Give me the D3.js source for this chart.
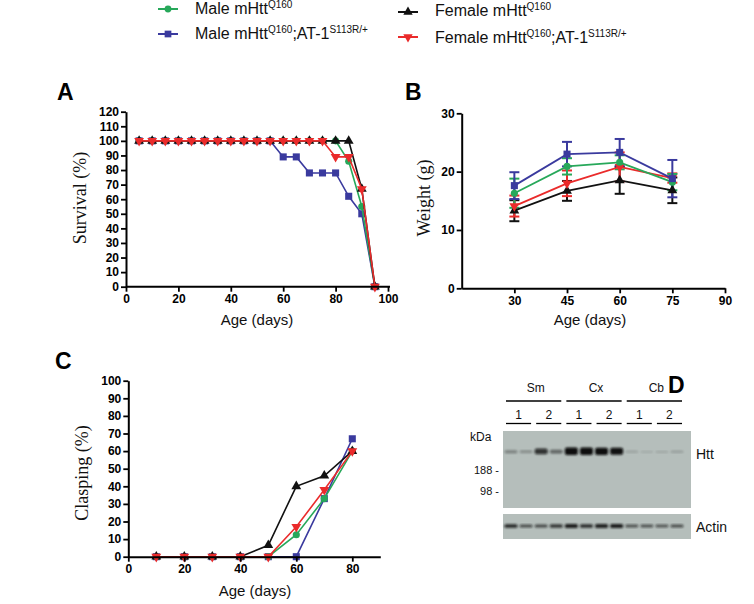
<!DOCTYPE html>
<html><head><meta charset="utf-8">
<script src="https://cdn.jsdelivr.net/npm/d3@7"></script>
<style>
body{margin:0;background:#fff;}
svg{display:block;}
text{font-family:"Liberation Sans",Arial,sans-serif;}
</style></head>
<body>
<svg id="chart" width="754" height="604"></svg>
<script>
// ---------- DATA ----------
const seriesNames = ["Male mHtt", "Male mHtt", "Female mHtt", "Female mHtt"];
const seriesKeys = ["maleWT", "maleAT1", "femaleWT", "femaleAT1"];
// Panel A: survival (%)
const survivalAge = [5,10,15,20,25,30,35,40,45,50,55,60,65,70,75,80,85,90,95];
const survMaleWT   = [100,100,100,100,100,100,100,100,100,100,100,100,100,100,100,100,86,55,0];
const survMaleAT1  = [100,100,100,100,100,100,100,100,100,100,100,89,89,78,78,78,62,50,0];
const survFemWT    = [100,100,100,100,100,100,100,100,100,100,100,100,100,100,100,100,100,67,0];
const survFemAT1   = [100,100,100,100,100,100,100,100,100,100,100,100,100,100,100,89,89,67,0];
const survXTicks = [0,20,40,60,80,100];
const survYTicks = [0,10,20,30,40,50,60,70,80,90,100,110,120];
// Panel B: weight (g), mean and error
const weightAge = [30,45,60,75];
const wMaleWT   = [16.3,20.9,21.6,18.2];
const wMaleWTe  = [2.5,1.4,1.2,1.4];
const wMaleAT1  = [17.6,23.0,23.3,18.8];
const wMaleAT1e = [2.3,2.1,2.3,3.2];
const wFemWT    = [13.3,16.7,18.5,16.8];
const wFemWTe   = [1.8,1.7,2.3,2.2];
const wFemAT1   = [14.1,18.0,20.8,18.9];
const wFemAT1e  = [1.8,2.2,2.5,0.8];
const weightXTicks = [30,45,60,75,90];
const weightYTicks = [0,10,20,30];
// Panel C: clasping (%)
const claspAge = [10,20,30,40,50,60,70,80];
const cMaleWT  = [0,0,0,0,0,12.5,33,60];
const cMaleAT1 = [0,0,0,0,0,0,33,67];
const cFemWT   = [0,0,0,0,6.5,40,46,60];
const cFemAT1  = [0,0,0,0,0,17,38,60];
const claspXTicks = [0,20,40,60,80];
const claspYTicks = [0,10,20,30,40,50,60,70,80,90,100];
// Panel D: western blot, relative band intensity per lane
const blotGroups = ["Sm","Cx","Cb"];
const blotSamples = ["1","2","1","2","1","2"];
const blotLanes = d3.range(12);
const httBand   = [0.25,0.2,0.7,0.4,1,1,0.95,0.9,0.07,0.02,0.05,0.1];
const actinBand = [0.85,0.5,0.55,0.7,0.95,0.8,0.9,0.95,0.45,0.45,0.4,0.5];
const kdaMarkers = ["188","98"];

// ---------- STYLE ----------
const colors = {maleWT:"#27a85a", maleAT1:"#3a3a9e", femaleWT:"#111111", femaleAT1:"#ea2b2b"};
const symbols = {maleWT:d3.symbolCircle, maleAT1:d3.symbolSquare, femaleWT:d3.symbolTriangle, femaleAT1:d3.symbolTriangle};
const symSize = {maleWT:40, maleAT1:50, femaleWT:42, femaleAT1:42};
const rot = {maleWT:0, maleAT1:0, femaleWT:0, femaleAT1:180};

const svg = d3.select("#chart");

function marker(g, key, x, y, scale=1){
  g.append("path")
    .attr("d", d3.symbol(symbols[key], symSize[key]*scale)())
    .attr("transform", `translate(${x},${y}) rotate(${rot[key]})`)
    .attr("fill", colors[key]);
}

function styleAxis(g){
  g.selectAll(".domain").attr("stroke","#000").attr("stroke-width",2);
  g.selectAll(".tick line").attr("stroke","#000").attr("stroke-width",1.8);
  g.selectAll(".tick text").attr("font-family","Liberation Sans, Arial, sans-serif")
    .attr("font-weight","bold").attr("font-size",12).attr("fill","#000");
}

// ---------- LEGEND ----------
const legend = [
  {key:"maleWT",   x:158, tx:195, y:9,  base:14, sup2:null},
  {key:"maleAT1",  x:158, tx:195, y:34, base:38.5, sup2:"S113R/+"},
  {key:"femaleWT", x:398, tx:435, y:12, base:16, sup2:null},
  {key:"femaleAT1",x:398, tx:435, y:37, base:42.5, sup2:"S113R/+"}
];
legend.forEach((d,i)=>{
  const g = svg.append("g");
  g.append("line").attr("x1",d.x).attr("x2",d.x+20).attr("y1",d.y).attr("y2",d.y)
    .attr("stroke",colors[d.key]).attr("stroke-width",2);
  marker(g,d.key,d.x+10,d.y,0.9);
  const t = g.append("text").attr("x",d.tx).attr("y",d.base).attr("font-size",16).attr("fill","#111");
  t.append("tspan").text(seriesNames[i]);
  t.append("tspan").text("Q160").attr("font-size",10).attr("dy",-6);
  if(d.sup2){
    t.append("tspan").text(";AT-1").attr("font-size",16).attr("dy",6);
    t.append("tspan").text(d.sup2).attr("font-size",10).attr("dy",-6);
  }
});

// ---------- PANEL LETTERS ----------
[["A",57,100],["B",405,100],["C",55,369],["D",668,393]].forEach(([l,x,y])=>{
  svg.append("text").attr("x",x).attr("y",y).text(l)
    .attr("font-size",23).attr("font-weight","bold").attr("fill","#000");
});

function yTitle(text,x,y){
  svg.append("text").attr("transform",`translate(${x},${y}) rotate(-90)`)
    .attr("text-anchor","middle")
    .style("font-family","Liberation Serif, Times New Roman, serif")
    .attr("font-size",18).attr("fill","#111").text(text);
}
function xTitle(text,x,y){
  svg.append("text").attr("x",x).attr("y",y).attr("text-anchor","middle")
    .attr("font-size",15).attr("fill","#111").text(text);
}

function drawSeries(g, xs, ys, key, x, y, lw=1.6){
  const pts = xs.map((v,i)=>[x(v), y(ys[i])]);
  g.append("path").attr("d", d3.line()(pts)).attr("fill","none")
    .attr("stroke",colors[key]).attr("stroke-width",lw);
  pts.forEach(p=>marker(g,key,p[0],p[1]));
}

// ---------- PANEL A ----------
{
  const x = d3.scaleLinear().domain([0,100]).range([126,388]);
  const y = d3.scaleLinear().domain([0,120]).range([286.7,111.7]);
  const g = svg.append("g");
  const order = [["maleAT1",survMaleAT1],["maleWT",survMaleWT],["femaleWT",survFemWT],["femaleAT1",survFemAT1]];
  order.forEach(([k,v])=>drawSeries(g,survivalAge,v,k,x,y));
  const ax = svg.append("g").attr("transform","translate(0,286.7)")
    .call(d3.axisBottom(x).tickValues(survXTicks).tickSize(5).tickSizeOuter(0));
  ax.select(".domain").attr("d","M126,0H390");
  styleAxis(ax);
  const ay = svg.append("g").attr("transform","translate(126,0)")
    .call(d3.axisLeft(y).tickValues(survYTicks).tickSize(5).tickSizeOuter(0).tickPadding(2));
  styleAxis(ay);
  yTitle("Survival (%)",86,198);
  xTitle("Age (days)",257,325);
}

// ---------- PANEL B ----------
{
  const x = d3.scaleLinear().domain([15,90]).range([461.7,725]);
  const y = d3.scaleLinear().domain([0,30]).range([288.3,113.3]);
  const g = svg.append("g");
  const order = [["femaleWT",wFemWT,wFemWTe],["femaleAT1",wFemAT1,wFemAT1e],["maleWT",wMaleWT,wMaleWTe],["maleAT1",wMaleAT1,wMaleAT1e]];
  order.forEach(([k,v,e])=>{
    weightAge.forEach((a,i)=>{
      const cx = x(a);
      g.append("line").attr("x1",cx).attr("x2",cx).attr("y1",y(v[i]-e[i])).attr("y2",y(v[i]+e[i]))
        .attr("stroke",colors[k]).attr("stroke-width",2);
      [v[i]-e[i], v[i]+e[i]].forEach(val=>{
        g.append("line").attr("x1",cx-5).attr("x2",cx+5).attr("y1",y(val)).attr("y2",y(val))
          .attr("stroke",colors[k]).attr("stroke-width",2);
      });
    });
  });
  order.forEach(([k,v])=>drawSeries(g,weightAge,v,k,x,y,1.8));
  const ax = svg.append("g").attr("transform","translate(0,288.3)")
    .call(d3.axisBottom(x).tickValues(weightXTicks).tickSize(5).tickSizeOuter(0));
  styleAxis(ax);
  const ay = svg.append("g").attr("transform","translate(461.7,0)")
    .call(d3.axisLeft(y).tickValues(weightYTicks).tickSize(5).tickSizeOuter(0).tickPadding(2));
  styleAxis(ay);
  yTitle("Weight (g)",430,198);
  xTitle("Age (days)",590,325);
}

// ---------- PANEL C ----------
{
  const x = d3.scaleLinear().domain([0,90]).range([128.3,380.3]);
  const y = d3.scaleLinear().domain([0,100]).range([556.7,380.7]);
  const g = svg.append("g");
  const order = [["maleAT1",cMaleAT1],["maleWT",cMaleWT],["femaleWT",cFemWT],["femaleAT1",cFemAT1]];
  order.forEach(([k,v])=>drawSeries(g,claspAge,v,k,x,y));
  const ax = svg.append("g").attr("transform","translate(0,556.7)")
    .call(d3.axisBottom(x).tickValues(claspXTicks).tickSize(5).tickSizeOuter(0));
  styleAxis(ax);
  const ay = svg.append("g").attr("transform","translate(128.3,0)")
    .call(d3.axisLeft(y).tickValues(claspYTicks).tickSize(5).tickSizeOuter(0).tickPadding(2));
  styleAxis(ay);
  yTitle("Clasping (%)",88,473);
  xTitle("Age (days)",255,596);
}

// ---------- PANEL D ----------
{
  const lane = d3.scalePoint().domain(blotLanes).range([511,677]);
  const defs = svg.append("defs");
  defs.append("filter").attr("id","blur").attr("x","-20%").attr("y","-50%").attr("width","140%").attr("height","200%")
    .append("feGaussianBlur").attr("stdDeviation",0.9);
  const g = svg.append("g");
  // blot membranes
  g.append("rect").attr("x",503).attr("y",431).attr("width",188).attr("height",77).attr("fill","#b5bebb");
  g.append("rect").attr("x",503).attr("y",514).attr("width",188).attr("height",25).attr("fill","#b5bebb");
  // Htt bands
  blotLanes.forEach(i=>{
    const v = httBand[i];
    const h = 1.5 + v*6;
    g.append("rect").attr("x",lane(i)-6.5).attr("y",452 - h*0.6).attr("width",13).attr("height",h)
      .attr("rx",2).attr("fill","#0a0a0a").attr("opacity",Math.min(1,0.12+v*0.95)).attr("filter","url(#blur)");
  });
  // Actin bands
  blotLanes.forEach(i=>{
    const v = actinBand[i];
    g.append("rect").attr("x",lane(i)-6.5).attr("y",526 - (2+v*2)/2).attr("width",13).attr("height",2+v*2)
      .attr("rx",1.5).attr("fill","#111").attr("opacity",0.35+v*0.6).attr("filter","url(#blur)");
  });
  // group lines & labels
  blotGroups.forEach((gr,i)=>{
    const x0 = lane(i*4)-5, x1 = lane(i*4+3)+5;
    g.append("line").attr("x1",x0).attr("x2",x1).attr("y1",401).attr("y2",401).attr("stroke","#000").attr("stroke-width",1.3);
    g.append("text").attr("x",(x0+x1)/2+2).attr("y",392).attr("text-anchor","middle").attr("font-size",12).attr("fill","#111").text(gr);
  });
  blotSamples.forEach((s,i)=>{
    const x0 = lane(i*2)-5, x1 = lane(i*2+1)+5;
    g.append("line").attr("x1",x0).attr("x2",x1).attr("y1",423.5).attr("y2",423.5).attr("stroke","#000").attr("stroke-width",1.3);
    g.append("text").attr("x",(x0+x1)/2).attr("y",419).attr("text-anchor","middle").attr("font-size",12).attr("fill","#111").text(s);
  });
  g.append("text").attr("x",470).attr("y",441).attr("font-size",12).attr("fill","#111").text("kDa");
  g.append("text").attr("x",499).attr("y",474).attr("text-anchor","end").attr("font-size",11).attr("fill","#111").text(kdaMarkers[0]+" -");
  g.append("text").attr("x",499).attr("y",495).attr("text-anchor","end").attr("font-size",11).attr("fill","#111").text(kdaMarkers[1]+" -");
  g.append("text").attr("x",696).attr("y",459).attr("font-size",14).attr("fill","#111").text("Htt");
  g.append("text").attr("x",696).attr("y",532).attr("font-size",14).attr("fill","#111").text("Actin");
}
</script>
</body></html>
